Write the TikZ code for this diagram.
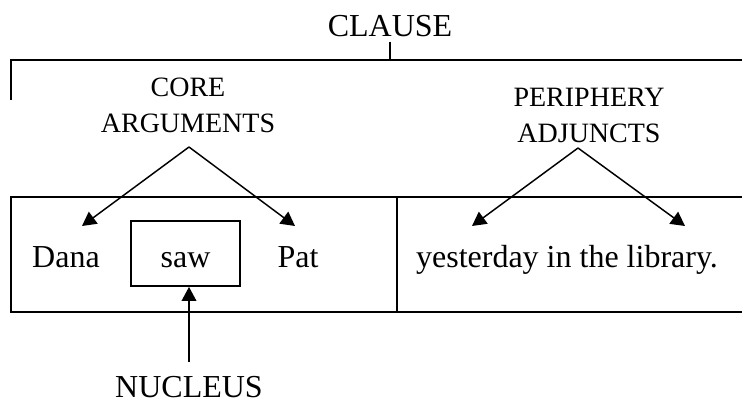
\documentclass[tikz,border=0pt]{standalone}
\usepackage{fontspec}
\setmainfont{Liberation Serif}
\usetikzlibrary{arrows.meta}
\begin{document}
\begin{tikzpicture}[x=0.75pt,y=-0.75pt,
  line/.style={line width=1.4pt},
  arr/.style={line width=1.1pt,-{Triangle[length=10.5pt,width=11pt]}},
  lbl/.style={inner sep=0pt,anchor=base,font=\fontsize{24}{28}\selectfont},
  toplbl/.style={inner sep=0pt,anchor=base,align=center,font=\fontsize{21}{26.25}\selectfont},
  framebox/.style={draw,line width=1.4pt,inner sep=0pt,anchor=base,
    minimum width=81.75pt,minimum height=48.75pt,text height=20.25pt,text depth=0pt,
    font=\fontsize{24}{28}\selectfont},
]
\useasboundingbox (0,0) rectangle (742,403);
\clip (0,0) rectangle (742,403);

% labels (two-line labels are placed by the baseline of their last line)
\node[lbl] (clause) at (390,37) {CLAUSE};
\node[toplbl] (core) at (188,132) {CORE\\ARGUMENTS};
\node[toplbl] (peri) at (589,142) {PERIPHERY\\ADJUNCTS};
\node[lbl] (dana) at (66,267) {Dana};
\node[framebox] (saw) at (185.5,267) {saw};
\node[lbl] (pat) at (298,267) {Pat};
\node[lbl] (adj) at (567,267) {yesterday in the library.};
\node[lbl] (nucleus) at (189,397) {NUCLEUS};

% clause bracket
\coordinate (brL) at (11,60);
\coordinate (brB) at (11,100);
\coordinate (brR) at (760,60);
\draw[line] (brB) -- (brL) -- (brR);
\draw[line,shorten <=3pt] (clause.south) -- (clause.south |- brL);

% frame of the clause: core part and periphery part
\draw[line] (760,197) -- (11,197) -- (11,312) -- (760,312);
\draw[line] (397,197) -- (397,312);

% arrows from the labels
\coordinate (capex) at (189,147);
\coordinate (tipDana) at (82,226);
\coordinate (tipPat) at (295,226);
\coordinate (papex) at (578,148);
\coordinate (tipA) at (472,226);
\coordinate (tipB) at (685,226);
\draw[arr] (capex) -- (tipDana);
\draw[arr] (capex) -- (tipPat);
\draw[arr] (papex) -- (tipA);
\draw[arr] (papex) -- (tipB);
\draw[arr,shorten <=10.5pt] (nucleus.north) -- (nucleus.north |- saw.south);
\end{tikzpicture}
\end{document}
